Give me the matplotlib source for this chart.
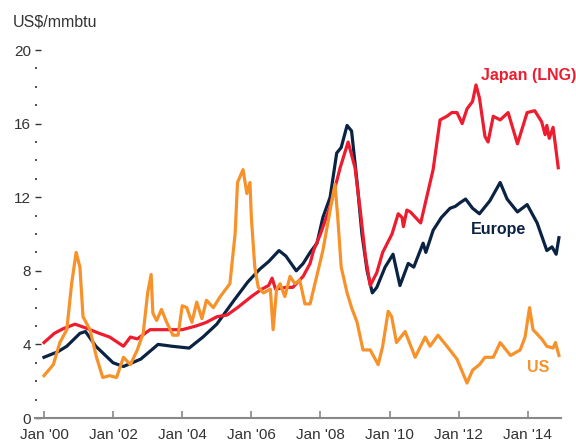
import matplotlib
matplotlib.use("Agg")
import matplotlib.pyplot as plt
from matplotlib.ticker import MultipleLocator

plt.rcParams['font.family'] = ['Liberation Sans', 'DejaVu Sans']

# decimal-year dates and prices (US$/mmbtu)
japan_t = [2000.0, 2000.3, 2000.55, 2000.9, 2001.2, 2001.6, 2001.9, 2002.3, 2002.5, 2002.7,
           2003.07, 2003.5, 2004.0, 2004.4, 2004.7, 2005.0, 2005.3, 2005.6, 2006.0, 2006.3,
           2006.5, 2006.6, 2006.7, 2007.0, 2007.2, 2007.5, 2007.7, 2007.8, 2008.0, 2008.28,
           2008.57, 2008.8, 2009.0, 2009.15, 2009.3, 2009.44, 2009.63, 2009.8, 2010.07, 2010.25,
           2010.36, 2010.4, 2010.5, 2010.6, 2010.75, 2010.9, 2011.26, 2011.46, 2011.66, 2011.8,
           2011.95, 2012.1, 2012.24, 2012.4, 2012.5, 2012.6, 2012.76, 2012.85, 2013.0, 2013.2,
           2013.43, 2013.7, 2013.98, 2014.2, 2014.4, 2014.5, 2014.55, 2014.62, 2014.73, 2014.8,
           2014.88]
japan_v = [4.1, 4.6, 4.85, 5.1, 4.9, 4.6, 4.4, 3.9, 4.4, 4.3,
           4.8, 4.8, 4.8, 5.0, 5.2, 5.5, 5.6, 6.0, 6.6, 7.0,
           7.2, 7.6, 7.0, 7.1, 7.1, 7.7, 8.4, 9.1, 10.0, 11.5,
           13.6, 15.0, 13.6, 11.3, 8.8, 7.2, 7.9, 9.0, 10.0, 11.1,
           10.9, 10.4, 11.3, 11.2, 10.9, 10.6, 13.5, 16.2, 16.4, 16.6,
           16.6, 16.0, 16.8, 17.2, 18.1, 17.4, 15.3, 15.0, 16.4, 16.2,
           16.6, 14.9, 16.6, 16.7, 16.1, 15.4, 15.9, 15.2, 15.8, 14.8,
           13.6]

europe_t = [2000.0, 2000.4, 2000.66, 2001.04, 2001.2, 2001.5, 2002.0, 2002.3, 2002.8, 2003.3,
            2003.7, 2004.2, 2004.6, 2005.0, 2005.5, 2005.9, 2006.25, 2006.5, 2006.8, 2007.0,
            2007.3, 2007.5, 2007.7, 2007.9, 2008.07, 2008.28, 2008.47, 2008.6, 2008.77, 2008.9,
            2009.06, 2009.2, 2009.35, 2009.5, 2009.63, 2009.87, 2010.1, 2010.3, 2010.54, 2010.7,
            2010.97, 2011.05, 2011.26, 2011.5, 2011.75, 2011.9, 2012.04, 2012.2, 2012.4, 2012.6,
            2012.9, 2013.2, 2013.4, 2013.7, 2013.98, 2014.27, 2014.55, 2014.7, 2014.82, 2014.9]
europe_v = [3.3, 3.6, 3.9, 4.6, 4.7, 3.9, 3.0, 2.8, 3.2, 4.0,
            3.9, 3.8, 4.4, 5.1, 6.4, 7.4, 8.1, 8.5, 9.1, 8.8,
            8.0, 8.4, 9.0, 9.5, 10.9, 12.0, 14.4, 14.7, 15.9, 15.6,
            12.8, 10.0, 8.0, 6.8, 7.1, 8.2, 8.9, 7.2, 8.4, 8.2,
            9.5, 9.0, 10.2, 10.9, 11.4, 11.5, 11.7, 11.9, 11.4, 11.1,
            11.8, 12.8, 11.9, 11.2, 11.6, 10.6, 9.1, 9.3, 8.9, 9.8]

us_t = [2000.0, 2000.27, 2000.46, 2000.66, 2000.8, 2000.93, 2001.04, 2001.13, 2001.33, 2001.52,
        2001.7, 2001.9, 2002.1, 2002.3, 2002.5, 2002.7, 2002.87, 2003.0, 2003.1, 2003.15,
        2003.26, 2003.4, 2003.55, 2003.73, 2003.88, 2004.0, 2004.13, 2004.28, 2004.42, 2004.57,
        2004.7, 2004.9, 2005.1, 2005.38, 2005.53, 2005.6, 2005.76, 2005.87, 2005.96, 2006.0,
        2006.1, 2006.2, 2006.35, 2006.55, 2006.63, 2006.73, 2006.83, 2006.97, 2007.12, 2007.26,
        2007.4, 2007.55, 2007.7, 2007.84, 2008.07, 2008.28, 2008.42, 2008.5, 2008.6, 2008.77,
        2008.9, 2009.06, 2009.23, 2009.44, 2009.67, 2009.8, 2009.96, 2010.06, 2010.2, 2010.45,
        2010.74, 2011.03, 2011.17, 2011.4, 2011.66, 2011.95, 2012.24, 2012.4, 2012.6, 2012.76,
        2013.0, 2013.2, 2013.5, 2013.78, 2013.92, 2014.05, 2014.15, 2014.4, 2014.55, 2014.73,
        2014.8, 2014.9]
us_v = [2.3, 2.9, 4.1, 4.8, 7.3, 9.0, 8.2, 5.5, 4.8, 3.3,
        2.2, 2.3, 2.2, 3.3, 2.9, 3.7, 4.6, 6.8, 7.8, 5.7,
        5.3, 5.9, 5.2, 4.5, 4.5, 6.1, 6.0, 5.2, 6.3, 5.4,
        6.4, 6.0, 6.6, 7.3, 10.0, 12.8, 13.5, 12.2, 12.8, 10.9,
        8.2, 7.1, 6.8, 7.0, 4.8, 7.0, 7.3, 6.6, 7.7, 7.3,
        7.5, 6.2, 6.2, 7.3, 9.1, 11.3, 12.7, 10.9, 8.2, 6.8,
        6.0, 5.2, 3.7, 3.7, 2.9, 3.9, 5.8, 5.5, 4.1, 4.7,
        3.3, 4.4, 3.9, 4.5, 3.9, 3.2, 1.9, 2.6, 2.9, 3.3,
        3.3, 4.1, 3.4, 3.7, 4.4, 6.0, 4.8, 4.3, 3.9, 3.8,
        4.1, 3.4]

tick_years = [2000, 2002, 2004, 2006, 2008, 2010, 2012, 2014]
tick_labels = ["Jan '00", "Jan '02", "Jan '04", "Jan '06", "Jan '08", "Jan '10", "Jan '12", "Jan '14"]

red = '#ED1C2E'
navy = '#0B2343'
orange = '#F7922B'
txt = '#333333'

W, H = 576, 444
fig = plt.figure(figsize=(W / 100, H / 100), dpi=100)
ax = fig.add_axes([35 / W, 26 / H, (561 - 35) / W, (418 - 50) / H])

ax.plot(europe_t, europe_v, color=navy, lw=2.3, solid_joinstyle='round')
ax.plot(japan_t, japan_v, color=red, lw=2.3, solid_joinstyle='round')
ax.plot(us_t, us_v, color=orange, lw=2.3, solid_joinstyle='round')

ax.set_xlim(1999.74, 2014.96)
ax.set_ylim(0, 20)

for s in ['top', 'right', 'left']:
    ax.spines[s].set_visible(False)
ax.spines['bottom'].set_color('#888888')
ax.spines['bottom'].set_linewidth(1.5)

ax.set_xticks(tick_years)
ax.set_xticklabels(tick_labels)
ax.tick_params(axis='x', direction='in', length=5, width=1.2, color='#888888',
               labelsize=11, labelcolor=txt, pad=7)

ax.yaxis.set_major_locator(MultipleLocator(4))
ax.yaxis.set_minor_locator(MultipleLocator(1))
ax.tick_params(axis='y', which='major', direction='in', length=4, width=1.0, color=txt,
               labelsize=11, labelcolor=txt, pad=3)
ax.tick_params(axis='y', which='minor', direction='in', length=1.2, width=1.2, color=txt)

ax.text(2012.65, 18.64, 'Japan (LNG)', color=red, fontsize=11.5, fontweight='bold',
        ha='left', va='center', clip_on=False)
ax.text(2012.36, 10.27, 'Europe', color=navy, fontsize=11.5, fontweight='bold',
        ha='left', va='center')
ax.text(2013.97, 2.72, 'US', color=orange, fontsize=11.5, fontweight='bold',
        ha='left', va='center')

fig.text(13 / W, 1 - 22 / H, 'US$/mmbtu', fontsize=11.5, color=txt, ha='left', va='center')

fig.savefig('out.png', dpi=100)
